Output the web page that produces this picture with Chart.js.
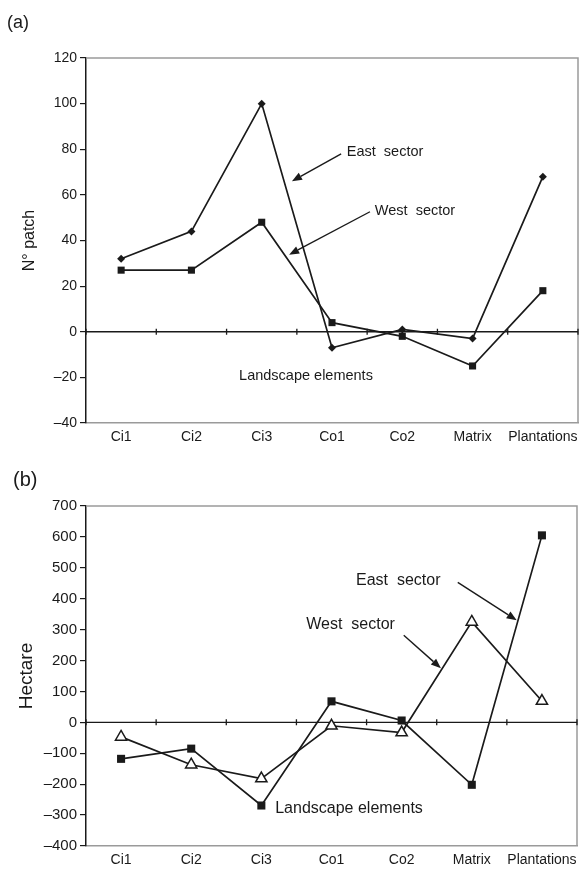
<!DOCTYPE html>
<html>
<head>
<meta charset="utf-8">
<script src="https://cdn.jsdelivr.net/npm/chart.js@4.4.1/dist/chart.umd.min.js"></script>
<style>
  body { margin: 0; background: #fff; }
  #wrap { position: relative; width: 585px; height: 869px; }
  .box { position: absolute; left: 0; width: 585px; }
  #boxA { top: 0; height: 445px; }
  #boxB { top: 445px; height: 424px; }
</style>
</head>
<body>
<div id="wrap">
  <div class="box" id="boxA"><canvas id="chartA"></canvas></div>
  <div class="box" id="boxB"><canvas id="chartB"></canvas></div>
</div>
<script>
// ===== Data =====
const categories = ['Ci1', 'Ci2', 'Ci3', 'Co1', 'Co2', 'Matrix', 'Plantations'];

const patchEast = [32, 44, 100, -7, 1, -3, 68];
const patchWest = [27, 27, 48, 4, -2, -15, 18];
const patchTicks = [-40, -20, 0, 20, 40, 60, 80, 100, 120];

const hectareEast = [-118, -85, -269, 68, 6, -202, 605];
const hectareWest = [-47, -137, -182, -11, -33, 325, 69];
const hectareTicks = [-400, -300, -200, -100, 0, 100, 200, 300, 400, 500, 600, 700];

const FONT = "'Liberation Sans', Arial, Helvetica, sans-serif";
const INK = '#1a1a1a';
const FRAME = '#9a9a9a';

function fmtTick(v) {
  return v < 0 ? '\u2013' + Math.abs(v) : String(v);
}

// frame, zero line with category ticks, panel letter, notes and arrows
const decorPlugin = {
  id: 'decor',
  beforeDatasetsDraw(chart, args, opts) {
    const { ctx, chartArea: a, scales: { x, y } } = chart;
    ctx.save();
    ctx.strokeStyle = FRAME;
    ctx.lineWidth = 1.5;
    ctx.beginPath();
    ctx.moveTo(a.left, a.top);
    ctx.lineTo(a.right, a.top);
    ctx.lineTo(a.right, a.bottom);
    ctx.stroke();

    const y0 = y.getPixelForValue(0);
    ctx.strokeStyle = INK;
    ctx.lineWidth = 1.3;
    ctx.beginPath();
    ctx.moveTo(a.left, y0);
    ctx.lineTo(a.right, y0);
    for (let i = 0; i <= categories.length; i++) {
      const px = x.getPixelForValue(i - 0.5);
      ctx.moveTo(px, y0 - 3);
      ctx.lineTo(px, y0 + 3);
    }
    ctx.stroke();
    ctx.restore();
  },
  afterDraw(chart, args, opts) {
    const { ctx, scales: { x, y } } = chart;
    ctx.save();
    ctx.fillStyle = INK;
    ctx.textBaseline = 'middle';
    ctx.font = opts.letterSize + 'px ' + FONT;
    ctx.textAlign = 'left';
    ctx.fillText(opts.letter, opts.letterX, opts.letterY);

    (opts.notes || []).forEach(n => {
      ctx.font = n.size + 'px ' + FONT;
      ctx.textAlign = n.align;
      ctx.fillText(n.text, x.getPixelForValue(n.x), y.getPixelForValue(n.y));
    });

    ctx.strokeStyle = INK;
    ctx.lineWidth = 1.4;
    (opts.arrows || []).forEach(ar => {
      const x1 = x.getPixelForValue(ar.from[0]), y1 = y.getPixelForValue(ar.from[1]);
      const x2 = x.getPixelForValue(ar.to[0]), y2 = y.getPixelForValue(ar.to[1]);
      const ang = Math.atan2(y2 - y1, x2 - x1);
      const len = 10, half = 4;
      const bx = x2 - len * Math.cos(ang), by = y2 - len * Math.sin(ang);
      ctx.beginPath();
      ctx.moveTo(x1, y1);
      ctx.lineTo(bx, by);
      ctx.stroke();
      ctx.beginPath();
      ctx.moveTo(x2, y2);
      ctx.lineTo(bx + half * Math.sin(ang), by - half * Math.cos(ang));
      ctx.lineTo(bx - half * Math.sin(ang), by + half * Math.cos(ang));
      ctx.closePath();
      ctx.fill();
    });
    ctx.restore();
  }
};

function makeChart(id, cfg) {
  return new Chart(document.getElementById(id).getContext('2d'), {
    type: 'line',
    data: {
      labels: categories,
      datasets: cfg.datasets,
    },
    plugins: [decorPlugin],
    options: {
      responsive: true,
      maintainAspectRatio: false,
      animation: false,
      layout: { padding: { top: cfg.padTop, right: cfg.padRight, left: 0, bottom: 0 } },
      elements: { line: { tension: 0 } },
      scales: {
        x: {
          offset: true,
          grid: { display: false, drawTicks: false },
          border: { display: true, color: FRAME, width: 1.5 },
          ticks: { color: INK, padding: 6, font: { family: FONT, size: 14 }, maxRotation: 0, autoSkip: false },
          afterFit: (s) => { s.height = cfg.xHeight; },
        },
        y: {
          min: cfg.ticks[0],
          max: cfg.ticks[cfg.ticks.length - 1],
          afterBuildTicks: (s) => { s.ticks = cfg.ticks.map(v => ({ value: v })); },
          grid: { drawOnChartArea: false, drawTicks: true, tickLength: 6, color: INK, lineWidth: 1.2 },
          border: { display: true, color: INK, width: 1.5 },
          ticks: { color: INK, padding: 3, font: { family: FONT, size: cfg.tickSize }, callback: fmtTick },
          title: {
            display: true,
            text: cfg.yTitle,
            color: INK,
            font: { family: FONT, size: cfg.titleSize },
            padding: { top: cfg.titlePad, bottom: 0 },
          },
          afterFit: (s) => { s.width = 86; },
        },
      },
      plugins: {
        legend: { display: false },
        tooltip: { enabled: false },
        decor: cfg.decor,
      },
    },
  });
}

// (a) number of patches
makeChart('chartA', {
  padTop: 58, padRight: 7, xHeight: 22, tickSize: 14, titleSize: 16, titlePad: 20,
  yTitle: 'N\u00b0 patch',
  ticks: patchTicks,
  datasets: [
    {
      label: 'East sector', data: patchEast,
      borderColor: INK, borderWidth: 1.7, backgroundColor: INK,
      pointStyle: 'rectRot', pointRadius: 4, pointBorderWidth: 0, clip: false,
    },
    {
      label: 'West sector', data: patchWest,
      borderColor: INK, borderWidth: 1.7, backgroundColor: INK,
      pointStyle: 'rect', pointRadius: 5, pointBorderWidth: 0, clip: false,
    },
  ],
  decor: {
    letter: '(a)', letterX: 7, letterY: 23, letterSize: 18,
    notes: [
      { text: 'East  sector', x: 3.21, y: 79, size: 14.5, align: 'left' },
      { text: 'West  sector', x: 3.61, y: 53, size: 14.5, align: 'left' },
      { text: 'Landscape elements', x: 2.63, y: -19.3, size: 14.5, align: 'center' },
    ],
    arrows: [
      { from: [3.13, 78], to: [2.43, 66] },
      { from: [3.54, 52.6], to: [2.39, 33.8] },
    ],
  },
});

// (b) area in hectares
makeChart('chartB', {
  padTop: 61, padRight: 6, xHeight: 23, tickSize: 15, titleSize: 19, titlePad: 15,
  yTitle: 'Hectare',
  ticks: hectareTicks,
  datasets: [
    {
      label: 'East sector', data: hectareEast,
      borderColor: INK, borderWidth: 1.7, backgroundColor: INK,
      pointStyle: 'rect', pointRadius: 5.7, pointBorderWidth: 0, clip: false,
    },
    {
      label: 'West sector', data: hectareWest,
      borderColor: INK, borderWidth: 1.7, backgroundColor: '#fff',
      pointStyle: 'triangle', pointRadius: 6.5, pointBorderWidth: 1.5, clip: false,
    },
  ],
  decor: {
    letter: '(b)', letterX: 13, letterY: 35, letterSize: 20,
    notes: [
      { text: 'East  sector', x: 3.35, y: 460, size: 16, align: 'left' },
      { text: 'West  sector', x: 2.64, y: 317, size: 16, align: 'left' },
      { text: 'Landscape elements', x: 3.25, y: -278, size: 16, align: 'center' },
    ],
    arrows: [
      { from: [4.80, 453], to: [5.64, 330] },
      { from: [4.03, 282], to: [4.56, 175] },
    ],
  },
});
</script>
</body>
</html>
